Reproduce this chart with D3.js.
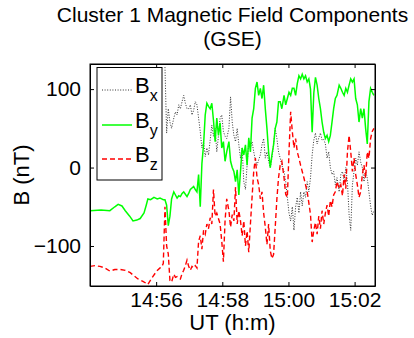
<!DOCTYPE html>
<html><head><meta charset="utf-8">
<script src="https://cdn.jsdelivr.net/npm/d3@7"></script>
<style>
html,body{margin:0;padding:0;background:#fff;}
svg{display:block;font-family:"Liberation Sans",Arial,Helvetica,sans-serif;}
</style></head>
<body><svg id="c" width="414" height="338"></svg>
<script>
// ---- data (time in seconds after 14:54:00 UT, field in nT) ----
const titleLines = ["Cluster 1 Magnetic Field Components", "(GSE)"];
const seriesNames = ["x", "y", "z"];
const xTickSeconds = [120, 240, 360, 480];
const xTickLabels = ["14:56", "14:58", "15:00", "15:02"];
const yTicks = [-100, 0, 100];

const tSlowBy = [0, 20, 36, 45, 51, 58, 64, 72, 78, 85, 91, 98, 102, 105, 110, 116, 122];
const bySlow  = [-55, -54, -55, -50, -47, -49, -55, -62, -68, -67, -65, -58, -48, -40, -41, -38, -40];
const tSlowBz = [0, 9, 18, 27, 36, 45, 55, 64, 73, 80, 87, 96, 105, 112, 121];
const bzSlow  = [-126, -125, -126, -128, -132, -130, -130, -131, -134, -138, -142, -145, -149, -141, -132];

const tFast = [127,130,133,136,139,142,145,148,152,155,158,161,164,167,170,173,176,179,182,185,
188,191,194,197,200,203,206,209,212,215,218,221,224,227,230,233,236,239,242,245,
248,252,255,258,261,264,267,270,273,276,279,282,285,288,291,294,297,300,303,306,
309,312,315,318,321,324,327,330,333,336,339,342,345,348,352,355,358,361,364,367,
370,373,376,379,382,385,388,391,394,397,400,403,406,409,412,415,418,421,424,427,
430,433,436,439,442,445,448,452,455,458,461,464,467,470,473,476,479,482,485,488,
491,494,497,500,503,506,509,512,515];

const bxFast = [null,null,null,128,44,75,58,50,63,71,
67,80,75,84,92,82,75,75,80,67,
73,84,80,63,46,25,33,14,25,16,
35,54,40,50,20,40,63,67,46,40,
37,50,90,58,41,33,50,29,12,25,
-18,-28,3,33,25,33,20,10,3,10,
16,29,37,12,20,8,0,12,29,50,
37,20,12,3,-5,-18,-38,-58,-68,-50,
-80,-50,-38,-58,-31,-49,-31,-38,-18,-31,
-13,16,35,44,30,38,44,35,36,30,
12,20,0,-9,-5,-22,-13,-31,-9,-5,
-18,0,-18,-60,-80,-22,-5,12,3,20,
7,0,-18,-5,-13,-31,-49,-61,-55];

const byFast = [-39,-40,-41,-41,-48,-74,-62,-40,-31,-35,
-39,-36,-37,-33,-31,-34,-37,-33,-28,-26,
-24,-28,-31,-9,-50,5,29,67,82,78,
75,82,60,33,63,41,57,25,33,8,
20,33,8,0,-5,-18,-3,-35,-5,25,
16,29,3,38,20,63,75,101,109,92,
101,88,105,75,50,20,0,16,29,50,
58,84,84,75,92,80,88,96,92,101,
101,92,107,117,113,119,113,117,109,113,
100,45,95,115,105,88,75,58,45,37,
41,33,41,58,75,88,92,105,101,96,
92,101,96,105,113,109,113,88,80,58,
75,63,75,50,30,84,101,96,92];

const bzFast = [-128,-127,-122,-50,-100,-110,-144,-146,-136,-140,
-139,-141,-142,-135,-131,-125,-118,-126,-131,-126,
-128,-125,-128,-94,-87,-104,-80,-85,-72,-78,
-64,-72,-28,-62,-58,-65,-72,-94,-120,-68,
-40,-55,-76,-60,-68,-25,-72,-55,-68,-87,
-68,-100,-81,-108,-72,-38,-5,12,-13,-22,
-40,-31,-58,-76,-98,-72,-106,-116,-111,-76,
-40,-13,3,8,-13,-34,-38,20,71,46,
25,37,20,12,3,-5,-13,-22,-31,-45,
-60,-95,-80,-70,-85,-62,-78,-55,-72,-58,
-48,-62,-42,-50,-35,-31,-18,-27,-22,-36,
-9,-27,20,41,20,-5,12,-9,-22,-38,
-31,-9,3,-13,20,12,37,46,50];

// ---- layout ----
const W = 414, H = 338;
const m = {left: 90, right: 39, top: 64, bottom: 52};
const svg = d3.select("#c");
const x = d3.scaleLinear().domain([0, 517]).range([m.left, W - m.right]);
const y = d3.scaleLinear().domain([-151, 132]).range([H - m.bottom, m.top]);
const FS = 21, FL = 22;

svg.append("defs").append("clipPath").attr("id", "clip")
  .append("rect").attr("x", x.range()[0]).attr("y", y.range()[1])
  .attr("width", x.range()[1] - x.range()[0]).attr("height", y.range()[0] - y.range()[1]);

function pts(ts, vs) { return ts.map((t, i) => ({t: t, v: vs[i]})); }
const bxData = pts(tFast, bxFast);
const byData = pts(tSlowBy, bySlow).concat(pts(tFast, byFast));
const bzData = pts(tSlowBz, bzSlow).concat(pts(tFast, bzFast));

const line = d3.line().defined(d => d.v != null).x(d => x(d.t)).y(d => y(d.v));
const styles = [
  {data: bxData, color: "#333", width: 1, dash: "1,1.6"},
  {data: byData, color: "#00ff00", width: 1.5, dash: null},
  {data: bzData, color: "#ff0000", width: 1.4, dash: "5,3"}
];
const g = svg.append("g").attr("clip-path", "url(#clip)");
styles.forEach(s => {
  g.append("path").datum(s.data).attr("d", line).attr("fill", "none")
    .attr("stroke", s.color).attr("stroke-width", s.width)
    .attr("stroke-dasharray", s.dash);
});

// ---- axes (MATLAB box with inward ticks) ----
const fmt = d => xTickLabels[xTickSeconds.indexOf(d)];
const ax = svg.append("g").attr("transform", `translate(0,${y.range()[0]})`)
  .call(d3.axisBottom(x).tickValues(xTickSeconds).tickFormat(fmt).tickSizeInner(-4).tickSizeOuter(0).tickPadding(6));
const axT = svg.append("g").attr("transform", `translate(0,${y.range()[1]})`)
  .call(d3.axisTop(x).tickValues(xTickSeconds).tickFormat("").tickSizeInner(-4).tickSizeOuter(0));
const ay = svg.append("g").attr("transform", `translate(${x.range()[0]},0)`)
  .call(d3.axisLeft(y).tickValues(yTicks).tickFormat(d => d < 0 ? "\u2212" + Math.abs(d) : d).tickSizeInner(-4).tickSizeOuter(0).tickPadding(9));
const ayR = svg.append("g").attr("transform", `translate(${x.range()[1]},0)`)
  .call(d3.axisRight(y).tickValues(yTicks).tickFormat("").tickSizeInner(-4).tickSizeOuter(0));
[ax, axT, ay, ayR].forEach(a => {
  a.selectAll("path.domain").attr("stroke", "#000").attr("stroke-width", 1);
  a.selectAll("line").attr("stroke", "#000");
  a.selectAll("text").attr("fill", "#000").style("font-size", FS + "px")
   .style("font-family", "'Liberation Sans', Arial, sans-serif");
});
svg.append("rect").attr("x", x.range()[0]).attr("y", y.range()[1])
  .attr("width", x.range()[1] - x.range()[0]).attr("height", y.range()[0] - y.range()[1])
  .attr("fill", "none").attr("stroke", "#000").attr("stroke-width", 1);

// ---- titles and labels ----
const cx = (x.range()[0] + x.range()[1]) / 2;
svg.append("text").attr("x", cx).attr("y", 22).attr("text-anchor", "middle")
  .style("font-size", FS + "px").text(titleLines[0]);
svg.append("text").attr("x", cx).attr("y", 46).attr("text-anchor", "middle")
  .style("font-size", FS + "px").text(titleLines[1]);
svg.append("text").attr("x", cx).attr("y", 330).attr("text-anchor", "middle")
  .style("font-size", FL + "px").text("UT (h:m)");
svg.append("text").attr("transform", `translate(29,${(y.range()[0] + y.range()[1]) / 2}) rotate(-90)`)
  .attr("text-anchor", "middle").style("font-size", FL + "px").text("B (nT)");

// ---- legend ----
const lg = svg.append("g");
lg.append("rect").attr("x", 97).attr("y", 67.5).attr("width", 65).attr("height", 112.5)
  .attr("fill", "#fff").attr("stroke", "#000").attr("stroke-width", 1);
const legY = [90, 125, 159];
styles.forEach((s, i) => {
  lg.append("line").attr("x1", 102).attr("x2", 132).attr("y1", legY[i]).attr("y2", legY[i])
    .attr("stroke", s.color).attr("stroke-width", s.width).attr("stroke-dasharray", s.dash);
  const t = lg.append("text").attr("x", 135).attr("y", legY[i] + 3).style("font-size", FL + "px");
  t.append("tspan").text("B");
  t.append("tspan").attr("dy", 8).style("font-size", "16px").text(seriesNames[i]);
});
</script></body></html>
